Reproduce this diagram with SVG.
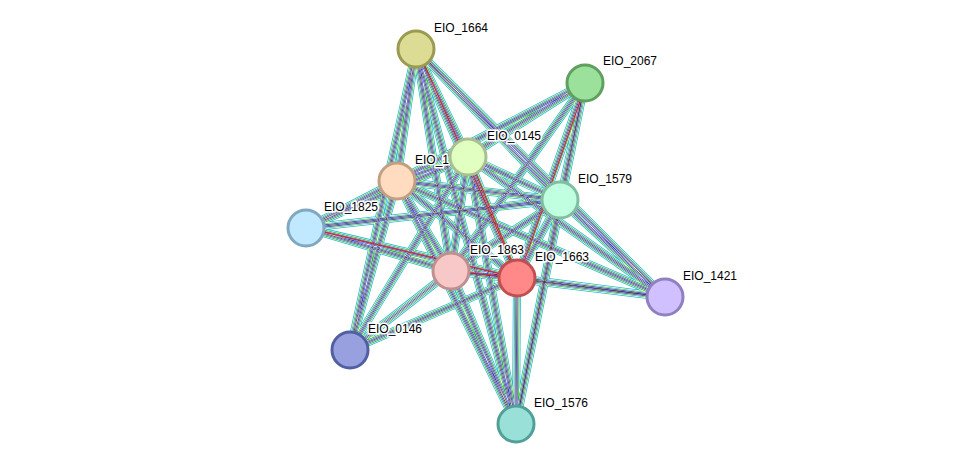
<svg xmlns="http://www.w3.org/2000/svg" xmlns:xlink="http://www.w3.org/1999/xlink" width="975" height="470" viewBox="0 0 975 470">
<style>
.e1{stroke:#2ab8d8;stroke-width:8;fill:none}
.e2{stroke:#fff;stroke-width:6.4;fill:none}
.e3{stroke:#22b822;stroke-width:5.2;fill:none}
.e4{stroke:#fff;stroke-width:3.8;fill:none}
.e5{stroke:#2030d8;stroke-width:2.8;fill:none}
.e6{stroke:#fff;stroke-width:1.6;fill:none}
.e7{stroke:#333;stroke-width:0.8;fill:none}
.b{stroke:#2030e0;stroke-width:1.2;fill:none}
circle{stroke-width:3}
text{font-family:"Liberation Sans",Arial,sans-serif;font-size:12px;fill:#000;stroke:#fff;stroke-width:3;paint-order:stroke}
</style>
<defs>
<path id="E" d="M416,49L468,157M416,49L397,181M416,49L451,271M416,49L517,278M416,49L560,200M416,49L350,350M416,49L665,297M416,49L516,424M585,83L468,157M585,83L397,181M585,83L560,200M585,83L451,271M585,83L517,278M585,83L516,424M468,157L397,181M468,157L560,200M468,157L306,228M468,157L451,271M468,157L517,278M468,157L350,350M468,157L665,297M468,157L516,424M397,181L560,200M397,181L306,228M397,181L451,271M397,181L517,278M397,181L350,350M397,181L516,424M397,181L665,297M560,200L306,228M560,200L451,271M560,200L517,278M560,200L665,297M560,200L516,424M306,228L451,271M306,228L517,278M451,271L517,278M451,271L350,350M451,271L516,424M451,271L665,297M517,278L350,350M517,278L665,297M517,278L516,424"/>
</defs>
<g id="connectors">
<use xlink:href="#E" class="e1"/>
<use xlink:href="#E" class="e2"/>
<use xlink:href="#E" class="e3"/>
<use xlink:href="#E" class="e4"/>
<use xlink:href="#E" class="e5"/>
<use xlink:href="#E" class="e6"/>
<use xlink:href="#E" class="e7"/>
<path d="M416,49L517,278M585,83L517,278M306,228L517,278M451,271L517,278M468,157L517,278" stroke="#e02020" stroke-width="1" fill="none" transform="translate(1.5,0)"/>
</g>
<g id="n1664"><circle cx="416" cy="49" r="18" fill="#dcdc94" stroke="#9a9a50"/><text x="434" y="32">EIO_1664</text></g>
<g id="n2067"><circle cx="585" cy="83" r="18" fill="#9be09b" stroke="#5fa05f"/><text x="603" y="65">EIO_2067</text></g>
<g id="n1"><circle cx="397" cy="181" r="18" fill="#ffdcc0" stroke="#c0a080"/><text x="415" y="164">EIO_1</text></g>
<g id="n0145"><circle cx="468" cy="157" r="18" fill="#e0ffc0" stroke="#a8c090"/><text x="487" y="140">EIO_0145</text></g>
<g id="n1579"><circle cx="560" cy="200" r="18" fill="#c0ffe0" stroke="#80c0a0"/><text x="578" y="183">EIO_1579</text></g>
<g id="n1825"><circle cx="306" cy="228" r="18" fill="#c0e8ff" stroke="#80a8c0"/><text x="324" y="211">EIO_1825</text></g>
<g id="n1863"><circle cx="451" cy="271" r="18" fill="#f8c8c8" stroke="#c09090"/><text x="470" y="254">EIO_1863</text></g>
<g id="n1663"><circle cx="517" cy="278" r="18" fill="#ff8888" stroke="#c05050"/><text x="535" y="261">EIO_1663</text></g>
<g id="n1421"><circle cx="665" cy="297" r="18" fill="#d0c0ff" stroke="#9080c0"/><text x="683" y="280">EIO_1421</text></g>
<g id="n0146"><circle cx="350" cy="350" r="18" fill="#98a0e0" stroke="#5060a0"/><text x="368" y="333">EIO_0146</text></g>
<g id="n1576"><circle cx="516" cy="424" r="18" fill="#98e0d8" stroke="#50a098"/><text x="534" y="407">EIO_1576</text></g>
</svg>
